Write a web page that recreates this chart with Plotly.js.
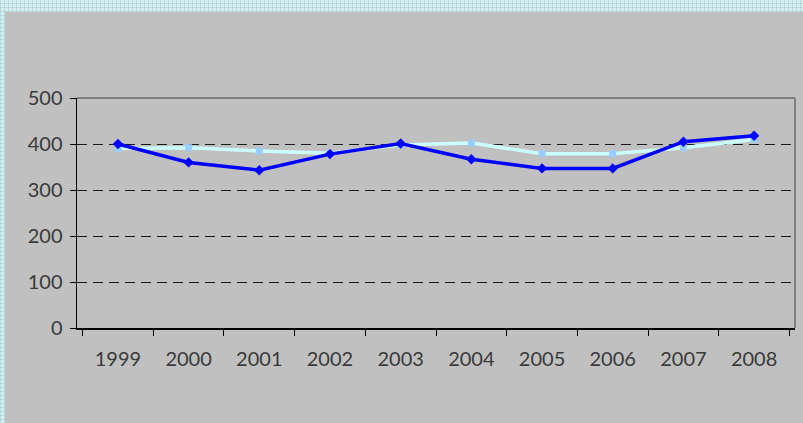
<!DOCTYPE html>
<html>
<head>
<meta charset="utf-8">
<script src="https://cdn.plot.ly/plotly-3.0.1.min.js"></script>
<style>
  html, body { margin: 0; padding: 0; width: 803px; height: 423px; overflow: hidden; }
  body {
    background-color: #d6eef0;
    background-image:
      linear-gradient(90deg, rgba(160,205,210,0.6) 1px, transparent 1px),
      linear-gradient(0deg, rgba(160,205,210,0.6) 1px, transparent 1px);
    background-size: 4px 4px;
  }
  #chart { position: absolute; left: 5px; top: 12px; width: 798px; height: 411px; }
</style>
</head>
<body>
<div id="chart"></div>
<script>
const years = ['1999','2000','2001','2002','2003','2004','2005','2006','2007','2008'];
const seriesDark = [400, 360, 343, 378, 401, 367, 347, 347, 405, 418];
const seriesLight = [390, 392, 385, 380, 398, 402, 379, 379, 392, 410];
const yTicks = [0, 100, 200, 300, 400, 500];

const traces = [
  {
    x: years, y: seriesLight, type: 'scatter', mode: 'lines+markers',
    line: { color: '#ccffff', width: 3.5 },
    marker: { symbol: 'square', size: 7, color: '#99ccff' },
    hoverinfo: 'x+y'
  },
  {
    x: years, y: seriesDark, type: 'scatter', mode: 'lines+markers',
    line: { color: '#0000ff', width: 3.5 },
    marker: { symbol: 'diamond', size: 8, color: '#0000ff' },
    hoverinfo: 'x+y'
  }
];

const layout = {
  width: 798, height: 411,
  paper_bgcolor: '#c0c0c0', plot_bgcolor: '#c0c0c0',
  margin: { l: 72, r: 8, t: 86, b: 95 },
  showlegend: false,
  font: { family: 'Lato, "Open Sans", sans-serif', color: '#404040' },
  xaxis: {
    type: 'category',
    tickson: 'boundaries',
    ticks: 'outside', ticklen: 6, tickcolor: '#000', tickwidth: 1,
    showline: true, linecolor: '#000', linewidth: 1.5,
    showgrid: false, zeroline: false,
    tickfont: { size: 20, color: '#3a3a3a' },
    ticklabelstandoff: 12,
    fixedrange: true
  },
  yaxis: {
    range: [0, 500],
    tickvals: yTicks,
    ticks: 'outside', ticklen: 6, tickcolor: '#000', tickwidth: 1,
    showline: true, linecolor: '#000', linewidth: 1.5,
    showgrid: true, gridcolor: '#1a1a1a', griddash: '10px,6px', gridwidth: 1,
    zeroline: false,
    tickfont: { size: 20, color: '#3a3a3a' },
    ticklabelstandoff: 3,
    fixedrange: true
  },
  shapes: [
    { type: 'line', xref: 'paper', yref: 'paper', x0: 0, x1: 1, y0: 1, y1: 1,
      line: { color: '#808080', width: 2 }, layer: 'above' },
    { type: 'line', xref: 'paper', yref: 'paper', x0: 1, x1: 1, y0: 0, y1: 1,
      line: { color: '#808080', width: 2 }, layer: 'above' }
  ]
};

Plotly.newPlot('chart', traces, layout, { displayModeBar: false, staticPlot: true });
</script>
</body>
</html>
